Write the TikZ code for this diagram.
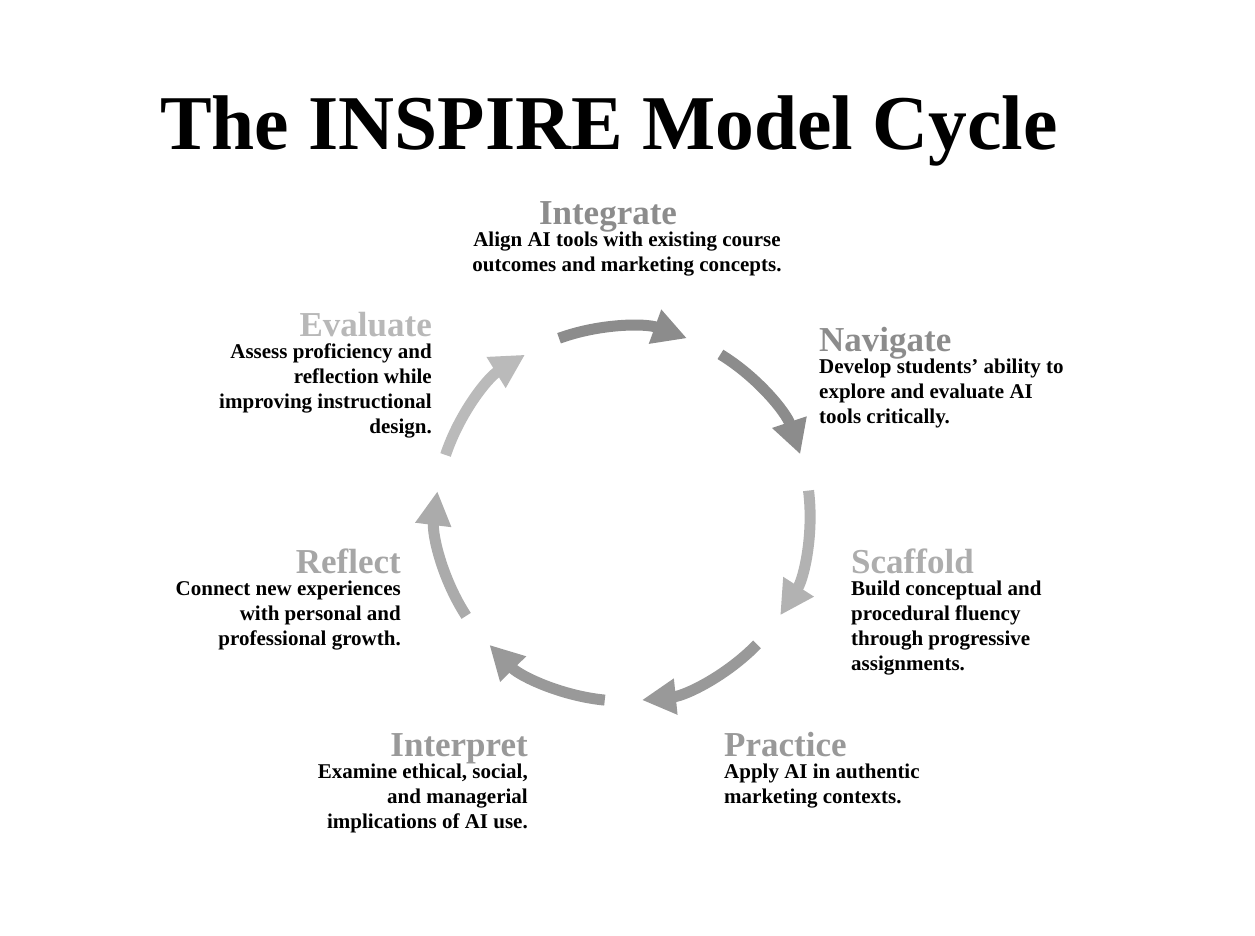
\documentclass[tikz,border=0pt]{standalone}
\usepackage{fontspec}
\setmainfont{Liberation Serif}
\usetikzlibrary{arrows.meta}
\begin{document}
\begin{tikzpicture}[x=1pt,y=-1pt,
  arc/.style={line width=11pt,-{Triangle[length=34pt,width=34pt]}},
  head/.style={font=\fontsize{35}{38}\selectfont\bfseries,inner sep=0pt},
  body/.style={font=\fontsize{21}{25}\selectfont\bfseries,inner sep=0pt}]
\useasboundingbox (0,0) rectangle (1255,936);
\coordinate (c) at (623,514);
\node[font=\fontsize{77.5}{90}\selectfont\bfseries,anchor=base] (title) at (609,150) {The INSPIRE Model Cycle};
% arcs
\draw[arc,color=black!45] (c) ++(-110:187) arc[start angle=-110,end angle=-70,radius=187];
\draw[arc,color=black!45] (c) ++(-58.6:187) arc[start angle=-58.6,end angle=-18.6,radius=187];
\draw[arc,color=black!30] (c) ++(-7.2:187) arc[start angle=-7.2,end angle=32.8,radius=187];
\draw[arc,color=black!40] (c) ++(44.2:187) arc[start angle=44.2,end angle=84.2,radius=187];
\draw[arc,color=black!40] (c) ++(95.6:187) arc[start angle=95.6,end angle=135.6,radius=187];
\draw[arc,color=black!33] (c) ++(147:187) arc[start angle=147,end angle=187,radius=187];
\draw[arc,color=black!27] (c) ++(198.4:187) arc[start angle=198.4,end angle=238.4,radius=187];
% Integrate
\node[head,anchor=base,text=black!45] (h1) at (608,224) {Integrate};
\node[body,anchor=north,align=center] (b1) at (627,232) {Align AI tools with existing course\\outcomes and marketing concepts.};
% Navigate
\node[head,anchor=base west,text=black!45] (h2) at (819,351) {Navigate};
\node[body,anchor=north west,align=left] (b2) at (819,359) {Develop students’ ability to\\explore and evaluate AI\\tools critically.};
% Scaffold
\node[head,anchor=base west,text=black!32] (h3) at (851,573) {Scaffold};
\node[body,anchor=north west,align=left] (b3) at (851,581) {Build conceptual and\\procedural fluency\\through progressive\\assignments.};
% Practice
\node[head,anchor=base west,text=black!40] (h4) at (724,756) {Practice};
\node[body,anchor=north west,align=left] (b4) at (724,764) {Apply AI in authentic\\marketing contexts.};
% Interpret
\node[head,anchor=base east,text=black!40] (h5) at (528,756) {Interpret};
\node[body,anchor=north east,align=right] (b5) at (528,764) {Examine ethical, social,\\and managerial\\implications of AI use.};
% Reflect
\node[head,anchor=base east,text=black!35] (h6) at (401,573) {Reflect};
\node[body,anchor=north east,align=right] (b6) at (401,581) {Connect new experiences\\with personal and\\professional growth.};
% Evaluate
\node[head,anchor=base east,text=black!28] (h7) at (432,336) {Evaluate};
\node[body,anchor=north east,align=right] (b7) at (432,344) {Assess proficiency and\\reflection while\\improving instructional\\design.};
\end{tikzpicture}
\end{document}
